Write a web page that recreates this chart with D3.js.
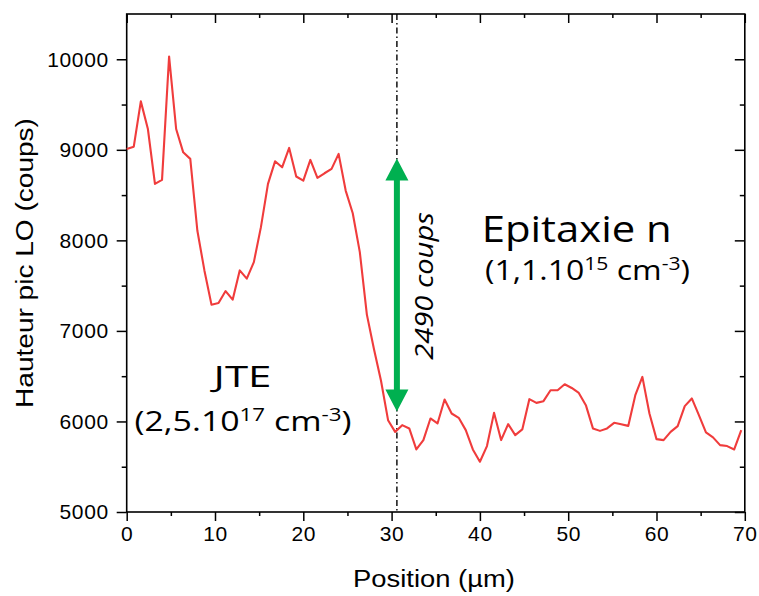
<!DOCTYPE html>
<html><head><meta charset="utf-8">
<script src="https://cdn.jsdelivr.net/npm/d3@7"></script>
<style>body{margin:0;background:#fff}svg{display:block}</style>
</head><body>
<svg id="chart" width="759" height="596"></svg>
<script>
const positions = [0,0.8,1.6,2.4,3.2,4,4.8,5.6,6.4,7.2,8,8.8,9.6,10.4,11.2,12,12.8,13.6,14.4,15.2,16,16.8,17.6,18.4,19.2,20,20.8,21.6,22.4,23.2,24,24.8,25.6,26.4,27.2,28,28.8,29.6,30.4,31.2,32,32.8,33.6,34.4,35.2,36,36.8,37.6,38.4,39.2,40,40.8,41.6,42.4,43.2,44,44.8,45.6,46.4,47.2,48,48.8,49.6,50.4,51.2,52,52.8,53.6,54.4,55.2,56,56.8,57.6,58.4,59.2,60,60.8,61.6,62.4,63.2,64,64.8,65.6,66.4,67.2,68,68.8,69.6];
const counts = [9010,9035,9535,9230,8624,8668,10031,9230,8972,8900,
8109,7668,7290,7308,7440,7345,7668,7577,7760,8146,
8624,8873,8807,9021,8705,8660,8889,8690,8741,8789,
8955,8550,8300,7870,7180,6800,6450,6014,5885,5959,
5923,5691,5794,6033,5978,6243,6088,6040,5904,5691,
5555,5728,6095,5794,5970,5849,5912,6246,6205,6224,
6345,6345,6411,6370,6315,6180,5923,5896,5923,5985,
5970,5951,6290,6492,6088,5805,5794,5885,5948,6169,
6254,6070,5879,5824,5739,5728,5691,5904];
const xTicks = [0,10,20,30,40,50,60,70];
const xMinor = [5,15,25,35,45,55,65];
const yTicks = [5000,6000,7000,8000,9000,10000];
const yMinor = [5500,6500,7500,8500,9500];
const xDomain = [0,70];
const yDomain = [5000,10500];
const markerX = 30.6;
const arrowTop = 8905, arrowBottom = 6110;
const xTitle = "Position (µm)";
const yTitle = "Hauteur pic LO (coups)";
const arrowLabel = "2490 coups";

const svg = d3.select("#chart");
const L = 126.7, T = 14, R = 744.8, B = 512;
const x = d3.scaleLinear().domain(xDomain).range([L, R]);
const y = d3.scaleLinear().domain(yDomain).range([B, T]);
const tickFont = "'Liberation Sans', Arial, sans-serif";
const annFont = "'Open Sans', 'Noto Sans', sans-serif";

function styleAxis(g){ g.select(".domain").remove(); g.selectAll("line").attr("stroke","#000").attr("stroke-width",1.5); }
const bottom = svg.append("g").attr("transform",`translate(0,${B})`)
  .call(d3.axisBottom(x).tickValues(xTicks).tickSize(9).tickPadding(5).tickFormat(d3.format("d")));
styleAxis(bottom);
bottom.selectAll("text").attr("font-family",tickFont).attr("font-size",21).attr("fill","#000").attr("letter-spacing",0.6);
svg.append("g").attr("transform",`translate(0,${B})`).call(d3.axisBottom(x).tickValues(xMinor).tickSize(4).tickFormat("")).call(styleAxis);
const left = svg.append("g").attr("transform",`translate(${L},0)`)
  .call(d3.axisLeft(y).tickValues(yTicks).tickSize(10).tickPadding(8).tickFormat(d3.format("d")));
styleAxis(left);
left.selectAll("text").attr("font-family",tickFont).attr("font-size",21).attr("fill","#000").attr("letter-spacing",0.6);
svg.append("g").attr("transform",`translate(${L},0)`).call(d3.axisLeft(y).tickValues(yMinor).tickSize(5).tickFormat("")).call(styleAxis);
svg.append("g").attr("transform",`translate(0,${T})`).call(d3.axisBottom(x).tickValues(xTicks).tickSize(9).tickFormat("")).call(styleAxis);
svg.append("g").attr("transform",`translate(0,${T})`).call(d3.axisBottom(x).tickValues(xMinor).tickSize(4).tickFormat("")).call(styleAxis);
svg.append("g").attr("transform",`translate(${R},0)`).call(d3.axisLeft(y).tickValues(yTicks).tickSize(10).tickFormat("")).call(styleAxis);
svg.append("g").attr("transform",`translate(${R},0)`).call(d3.axisLeft(y).tickValues(yMinor).tickSize(5).tickFormat("")).call(styleAxis);
svg.append("rect").attr("x",L).attr("y",T).attr("width",R-L).attr("height",B-T)
  .attr("fill","none").attr("stroke","#000").attr("stroke-width",1.6);

svg.append("line").attr("x1",x(markerX)).attr("x2",x(markerX)).attr("y1",y(yDomain[1])).attr("y2",y(yDomain[0]))
  .attr("stroke","#000").attr("stroke-width",1.4).attr("stroke-dasharray","6,3,1.5,3");

svg.append("path").datum(positions.map((p,i)=>[p,counts[i]]))
  .attr("fill","none").attr("stroke","#F03C3C").attr("stroke-width",2.1).attr("stroke-linejoin","round")
  .attr("d", d3.line().x(d=>x(d[0])).y(d=>y(d[1])));

const ax = x(markerX), yt = y(arrowTop), yb = y(arrowBottom);
const hw = 11.5, hl = 22, sw = 3;
svg.append("path").attr("fill","#00B050")
  .attr("d",`M${ax},${yt} L${ax+hw},${yt+hl} L${ax+sw},${yt+hl} L${ax+sw},${yb-hl} L${ax+hw},${yb-hl} L${ax},${yb} L${ax-hw},${yb-hl} L${ax-sw},${yb-hl} L${ax-sw},${yt+hl} L${ax-hw},${yt+hl} Z`);

function label(cx, cy, rot, target, build){
  const g = svg.append("g").attr("transform",`translate(${cx},${cy}) rotate(${rot})`);
  const t = g.append("text").attr("text-anchor","middle").attr("fill","#000");
  build(t);
  const w = t.node().getBBox().width;
  t.attr("transform",`scale(${target/w},1)`);
  return t;
}
label(434, 587, 0, 162, t=>t.attr("font-family",tickFont).attr("font-size",24).text(xTitle));
label(33, 263, -90, 290, t=>t.attr("font-family",tickFont).attr("font-size",24).text(yTitle));
label(433, 286, -90, 148, t=>t.attr("font-family",annFont).attr("font-size",25).attr("font-style","italic").text(arrowLabel));

function conc(t, base, exp){
  t.append("tspan").text(base);
  t.append("tspan").attr("dy",-10).attr("font-size","0.66em").text(exp);
  t.append("tspan").attr("dy",10).text(" cm");
  t.append("tspan").attr("dy",-10).attr("font-size","0.66em").text("-3");
  t.append("tspan").attr("dy",10).text(")");
}
label(242.5, 386.7, 0, 62, t=>t.attr("font-family",annFont).attr("font-size",30).text("JTE"));
label(243, 431, 0, 217, t=>{t.attr("font-family",annFont).attr("font-size",28); conc(t,"(2,5.10","17");});
label(576.7, 241.7, 0, 190, t=>t.attr("font-family",annFont).attr("font-size",36).text("Epitaxie n"));
label(587.5, 280, 0, 205, t=>{t.attr("font-family",annFont).attr("font-size",28); conc(t,"(1,1.10","15");});
</script>
</body></html>
